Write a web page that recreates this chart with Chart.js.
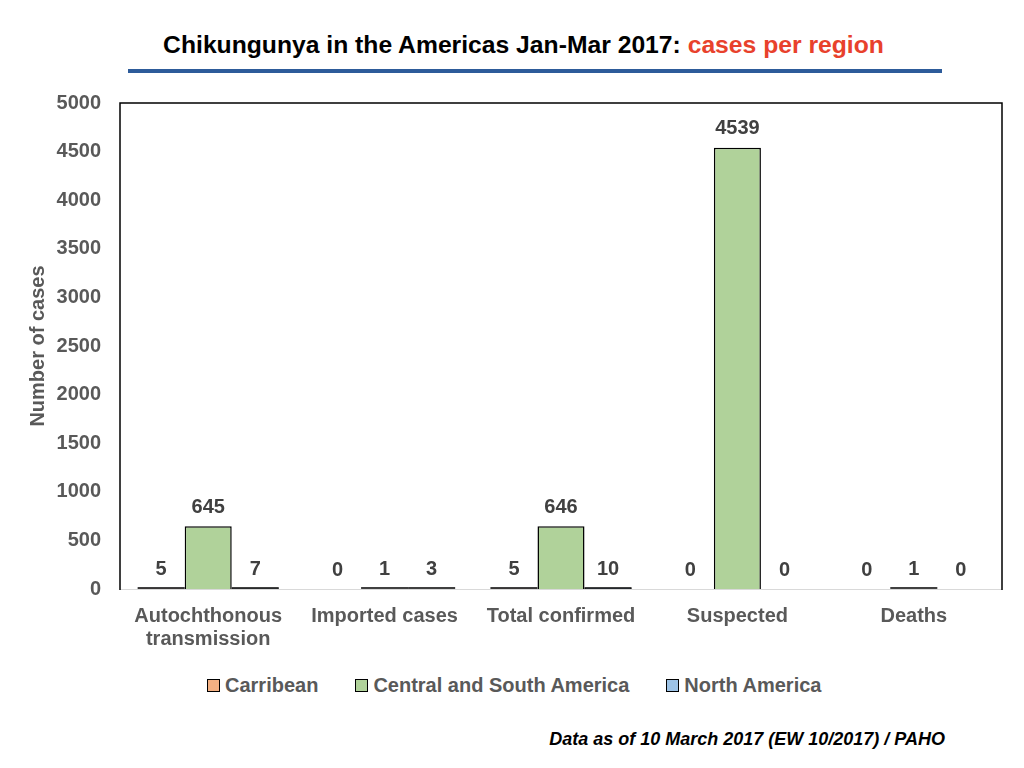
<!DOCTYPE html>
<html>
<head>
<meta charset="utf-8">
<script src="https://cdn.jsdelivr.net/npm/chart.js@4.4.0/dist/chart.umd.min.js"></script>
<style>
  html, body { margin: 0; padding: 0; background: #fff; }
  body { width: 1024px; height: 768px; position: relative; overflow: hidden; font-family: "Liberation Sans", Arial, sans-serif; }
  #title { position: absolute; top: 30px; left: 0; width: 1047px; text-align: center; font-weight: bold; font-size: 24.7px; line-height: 30px; color: #000; }
  #title span { color: #E8412C; }
  #rule { position: absolute; top: 69px; left: 128px; width: 814px; height: 4px; background: #2D5B9A; }
  #wrap { position: absolute; left: 0; top: 72px; width: 1024px; height: 595px; }
  #legend { position: absolute; top: 673px; left: 207px; display: flex; align-items: center; font-weight: bold; font-size: 20px; line-height: 24px; color: #595959; white-space: nowrap; }
  #legend .item { display: flex; align-items: center; margin-right: 37px; }
  #legend .box { width: 11px; height: 11px; border: 1px solid #000; margin-right: 5px; }
  #footer { position: absolute; top: 729px; right: 79px; font-weight: bold; font-style: italic; font-size: 18px; color: #000; }
</style>
</head>
<body>
<div id="title">Chikungunya in the Americas Jan-Mar 2017: <span>cases per region</span></div>
<div id="rule"></div>
<div id="wrap"><canvas id="c"></canvas></div>
<div id="legend"></div>
<div id="footer">Data as of 10 March 2017 (EW 10/2017) / PAHO</div>
<script>
const categories = [["Autochthonous", "transmission"], "Imported cases", "Total confirmed", "Suspected", "Deaths"];
const seriesNames = ["Carribean", "Central and South America", "North America"];
const carribean = [5, 0, 5, 0, 0];
const centralSouth = [645, 1, 646, 4539, 1];
const northAmerica = [7, 3, 10, 0, 0];
const yTicks = [0, 500, 1000, 1500, 2000, 2500, 3000, 3500, 4000, 4500, 5000];

const gray = "#595959";
const FONT = "'Liberation Sans', Arial, sans-serif";
const colors = ["#F4B183", "#B0D29A", "#9DC3E6"];

const valueLabels = {
  id: "valueLabels",
  afterDatasetsDraw(chart) {
    const ctx = chart.ctx;
    ctx.save();
    chart.data.datasets.forEach((ds, i) => {
      const meta = chart.getDatasetMeta(i);
      meta.data.forEach((el, j) => {
        if (ds.data[j] > 0 && Math.abs(el.base - el.y) < 2) {
          ctx.strokeStyle = "#000";
          ctx.lineWidth = 1.5;
          ctx.beginPath();
          ctx.moveTo(el.x - el.width / 2, el.base - 1);
          ctx.lineTo(el.x + el.width / 2, el.base - 1);
          ctx.stroke();
        }
      });
    });
    ctx.font = "bold 20px " + FONT;
    ctx.fillStyle = "#404040";
    ctx.textAlign = "center";
    ctx.textBaseline = "bottom";
    chart.data.datasets.forEach((ds, i) => {
      const meta = chart.getDatasetMeta(i);
      meta.data.forEach((el, j) => {
        ctx.fillText(String(ds.data[j]), el.x, el.y - 9);
      });
    });
    ctx.restore();
  }
};

const plotBorder = {
  id: "plotBorder",
  afterDraw(chart) {
    const a = chart.chartArea, ctx = chart.ctx;
    ctx.save();
    ctx.strokeStyle = "#d9d9d9";
    ctx.lineWidth = 1;
    ctx.beginPath();
    ctx.moveTo(a.left, a.bottom + 0.5);
    ctx.lineTo(a.right, a.bottom + 0.5);
    ctx.stroke();
    ctx.strokeStyle = "#000";
    ctx.lineWidth = 1.5;
    ctx.beginPath();
    ctx.moveTo(a.left, a.bottom + 1);
    ctx.lineTo(a.left, a.top);
    ctx.lineTo(a.right, a.top);
    ctx.lineTo(a.right, a.bottom + 1);
    ctx.stroke();
    ctx.restore();
  }
};

const chart = new Chart(document.getElementById("c"), {
  type: "bar",
  data: {
    labels: categories,
    datasets: [
      { label: seriesNames[0], data: carribean, backgroundColor: colors[0], borderColor: "#000", borderWidth: 1 },
      { label: seriesNames[1], data: centralSouth, backgroundColor: colors[1], borderColor: "#000", borderWidth: 1.5 },
      { label: seriesNames[2], data: northAmerica, backgroundColor: colors[2], borderColor: "#000", borderWidth: 1 }
    ]
  },
  options: {
    responsive: true,
    maintainAspectRatio: false,
    animation: false,
    layout: { padding: { left: 0, right: 22, top: 22, bottom: 0 } },
    datasets: { bar: { categoryPercentage: 0.8, barPercentage: 1.0 } },
    plugins: {
      legend: { display: false },
      tooltip: { enabled: false },
      title: { display: false }
    },
    scales: {
      x: {
        grid: { display: false, drawTicks: false },
        border: { display: false },
        ticks: {
          color: gray, padding: 16, maxRotation: 0, autoSkip: false,
          font: { family: FONT, size: 20, weight: "bold", lineHeight: 1.15 }
        }
      },
      y: {
        min: 0, max: 5000,
        afterBuildTicks(axis) { axis.ticks = yTicks.map(v => ({ value: v })); },
        afterFit(scale) { scale.width = 120; },
        grid: { display: false, drawTicks: false },
        border: { display: false },
        title: {
          display: true, text: "Number of cases", color: gray, padding: { top: 26, bottom: 0 },
          font: { family: FONT, size: 20, weight: "bold" }
        },
        ticks: {
          color: gray, padding: 19,
          callback: (v) => String(v),
          font: { family: FONT, size: 20, weight: "bold" }
        }
      }
    }
  },
  plugins: [valueLabels, plotBorder]
});

// HTML legend built from the chart's datasets
const legendEl = document.getElementById("legend");
chart.data.datasets.forEach((ds) => {
  const item = document.createElement("div");
  item.className = "item";
  const box = document.createElement("div");
  box.className = "box";
  box.style.background = ds.backgroundColor;
  const txt = document.createElement("span");
  txt.textContent = ds.label;
  item.appendChild(box);
  item.appendChild(txt);
  legendEl.appendChild(item);
});
</script>
</body>
</html>
